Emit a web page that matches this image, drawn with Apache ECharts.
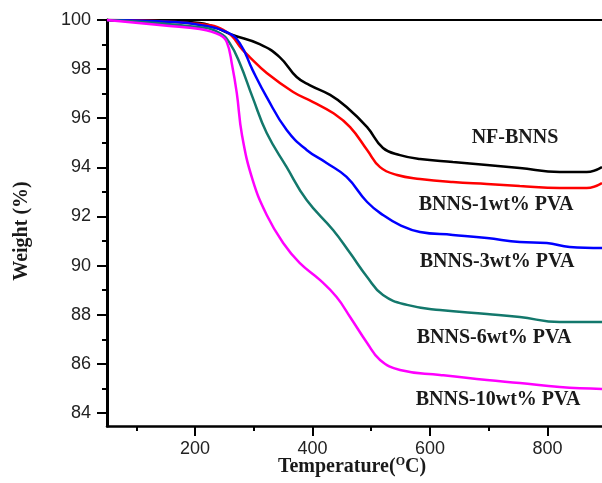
<!DOCTYPE html>
<html>
<head>
<meta charset="utf-8">
<script src="https://cdn.jsdelivr.net/npm/echarts@6/dist/echarts.min.js"></script>
<style>
  html, body { margin: 0; padding: 0; background: #fff; }
  #main { width: 602px; height: 483px; }
</style>
</head>
<body>
<div id="main"></div>
<script>
// TGA curves
var nfTemp = [50, 140, 208, 264, 310, 344, 373, 395, 430, 458, 493, 520, 549, 583, 639, 697, 753, 821, 867, 893]
var nfWeight = [100, 99.96, 99.88, 99.39, 99.02, 98.49, 97.68, 97.35, 96.95, 96.46, 95.64, 94.79, 94.50, 94.34, 94.22, 94.10, 93.97, 93.81, 93.81, 94.01]

var pva1Temp = [50, 208, 254, 281, 293, 322, 367, 401, 435, 464, 493, 515, 544, 583, 639, 697, 753, 821, 867, 893]
var pva1Weight = [100, 99.84, 99.51, 98.78, 98.49, 97.84, 97.07, 96.66, 96.21, 95.64, 94.71, 94.01, 93.69, 93.53, 93.40, 93.32, 93.24, 93.16, 93.16, 93.36]

var pva3Temp = [50, 162, 208, 254, 276, 298, 322, 356, 390, 424, 458, 493, 520, 549, 583, 639, 697, 753, 799, 838, 893]
var pva3Weight = [100, 99.92, 99.80, 99.51, 99.06, 97.96, 96.86, 95.52, 94.71, 94.18, 93.61, 92.59, 92.06, 91.65, 91.37, 91.25, 91.12, 90.96, 90.92, 90.76, 90.72]

var pva6Temp = [50, 208, 242, 259, 276, 298, 322, 356, 390, 435, 464, 493, 520, 561, 617, 697, 753, 821, 893]
var pva6Weight = [100, 99.71, 99.47, 99.06, 98.25, 96.85, 95.40, 94.01, 92.67, 91.45, 90.51, 89.54, 88.80, 88.40, 88.19, 88.03, 87.91, 87.70, 87.70]

var pva10Temp = [50, 152, 208, 242, 254, 263, 271, 280, 298, 322, 350, 378, 413, 441, 464, 493, 515, 549, 617, 697, 753, 821, 893]
var pva10Weight = [100, 99.77, 99.63, 99.39, 99.10, 98.17, 97.03, 95.30, 93.49, 92.06, 90.92, 90.11, 89.41, 88.72, 87.91, 86.85, 86.16, 85.75, 85.55, 85.34, 85.22, 85.06, 84.98]

var seriesNames = ['NF-BNNS', 'BNNS-1wt% PVA', 'BNNS-3wt% PVA', 'BNNS-6wt% PVA', 'BNNS-10wt% PVA']
var seriesColors = ['#000000', '#ff0000', '#0000ff', '#13786c', '#ff00ff']
var seriesTemps = [nfTemp, pva1Temp, pva3Temp, pva6Temp, pva10Temp]
var seriesWeights = [nfWeight, pva1Weight, pva3Weight, pva6Weight, pva10Weight]

var xMajor = [200, 400, 600, 800]
var xMinor = [100, 300, 500, 700]
var yMajor = [84, 86, 88, 90, 92, 94, 96, 98, 100]
var yMinor = [85, 87, 89, 91, 93, 95, 97, 99]

// where the curve names sit (pixels)
var labelPos = [[515, 138], [496, 205], [497, 262], [494, 338], [498, 400]]

var xMin = 50
var xMax = 893
var yMin = 83.47
var yMax = 100

function pairs (xs, ys) {
  return xs.map(function (x, i) { return [x, ys[i]] })
}

var series = seriesNames.map(function (name, i) {
  return {
    name: name,
    type: 'line',
    xAxisIndex: 0,
    yAxisIndex: 0,
    showSymbol: false,
    smooth: 0.45,
    data: pairs(seriesTemps[i], seriesWeights[i]),
    lineStyle: { color: seriesColors[i], width: 2.5 },
    itemStyle: { color: seriesColors[i] }
  }
})

var labelGraphics = seriesNames.map(function (name, i) {
  return {
    type: 'text',
    x: labelPos[i][0],
    y: labelPos[i][1],
    style: {
      text: name,
      font: 'bold 20px "Liberation Serif"',
      fill: '#1a1a1a',
      textAlign: 'center',
      textVerticalAlign: 'middle'
    }
  }
})

var option = {
  animation: false,
  backgroundColor: '#fff',
  grid: { left: 107, right: 0, top: 20, bottom: 57, containLabel: false },
  xAxis: [{
    type: 'value',
    position: 'bottom',
    min: xMin,
    max: xMax,
    axisLine: { lineStyle: { color: '#000', width: 2.5 } },
    axisTick: { customValues: xMajor, length: 10, lineStyle: { color: '#000', width: 2 } },
    axisLabel: { customValues: xMajor, margin: 14, fontSize: 18, color: '#222', fontFamily: 'Liberation Sans' },
    splitLine: { show: false }
  }, {
    type: 'value',
    position: 'bottom',
    min: xMin,
    max: xMax,
    axisLine: { show: false },
    axisTick: { customValues: xMinor, length: 5, lineStyle: { color: '#000', width: 2 } },
    axisLabel: { show: false },
    splitLine: { show: false }
  }, {
    type: 'value',
    position: 'top',
    min: xMin,
    max: xMax,
    axisLine: { lineStyle: { color: '#000', width: 2 } },
    axisTick: { show: false },
    axisLabel: { show: false },
    splitLine: { show: false }
  }],
  yAxis: [{
    type: 'value',
    position: 'left',
    min: yMin,
    max: yMax,
    axisLine: { show: true, lineStyle: { color: '#000', width: 3 } },
    axisTick: { show: true, customValues: yMajor, length: 10, lineStyle: { color: '#000', width: 2 } },
    axisLabel: { customValues: yMajor, margin: 16, fontSize: 18, color: '#222', fontFamily: 'Liberation Sans' },
    splitLine: { show: false }
  }, {
    type: 'value',
    position: 'left',
    min: yMin,
    max: yMax,
    axisLine: { show: false },
    axisTick: { show: true, customValues: yMinor, length: 5, lineStyle: { color: '#000', width: 2 } },
    axisLabel: { show: false },
    splitLine: { show: false }
  }],
  graphic: labelGraphics.concat([{
    type: 'text',
    x: 22,
    y: 231,
    rotation: Math.PI / 2,
    style: {
      text: 'Weight (%)',
      font: 'bold 20px "Liberation Serif"',
      fill: '#1a1a1a',
      textAlign: 'center',
      textVerticalAlign: 'middle'
    }
  }, {
    type: 'text',
    x: 352,
    y: 467,
    style: {
      text: 'Temperature({sup|O}C)',
      font: 'bold 20px "Liberation Serif"',
      fill: '#1a1a1a',
      textAlign: 'center',
      textVerticalAlign: 'middle',
      rich: {
        sup: { font: 'bold 12px "Liberation Serif"', fill: '#1a1a1a', verticalAlign: 'top', padding: [0, 0, 10, 0] }
      }
    }
  }]),
  series: series
}

var myChart = echarts.init(document.getElementById('main'))
myChart.setOption(option)
</script>
</body>
</html>
